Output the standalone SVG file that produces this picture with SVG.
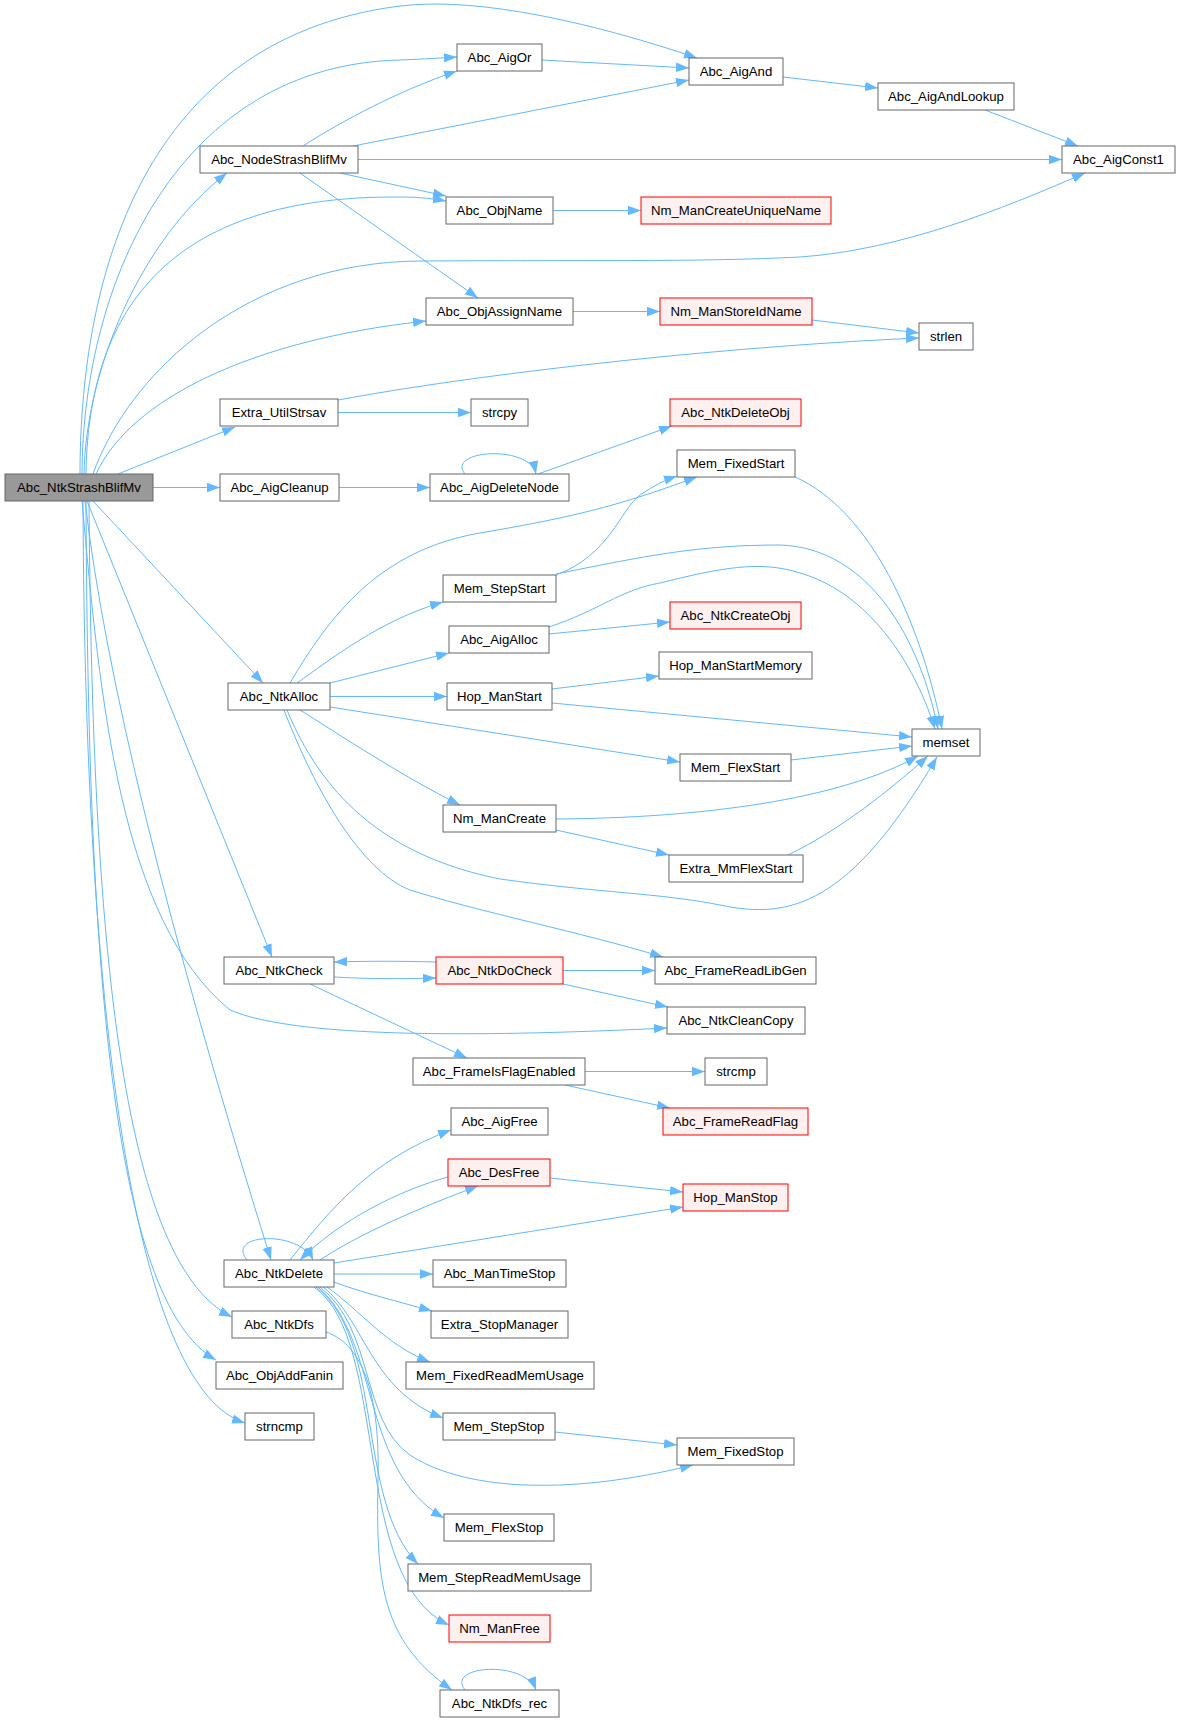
<svg xmlns="http://www.w3.org/2000/svg" width="1180" height="1722" viewBox="0 0 1180 1722">
<style>
.node rect{fill:#ffffff;stroke:#666666;stroke-width:1}
.node.red rect{fill:#fff0f0;stroke:#ff0000}
.node.main rect{fill:#999999;stroke:#666666}
.node text{font-family:"Liberation Sans",Arial,Helvetica,sans-serif;font-size:13.2px;fill:#000000;text-anchor:middle}
.edges path{fill:none;stroke:#63b8ff;stroke-width:1;marker-end:url(#arr)}
</style>
<defs>
<marker id="arr" markerUnits="userSpaceOnUse" markerWidth="14" markerHeight="10" refX="13" refY="5" orient="auto">
<path d="M0,0.3 L13,5 L0,9.7 z" fill="#63b8ff"/>
</marker>
</defs>
<rect x="0" y="0" width="1180" height="1722" fill="#ffffff"/>
<g class="edges">
<path d="M80,474 C80,300 130,40 400,6 C480,-4 600,25 697,58"/>
<path d="M82,474 C83,280 180,65 400,60 C425,59 440,58 457,57"/>
<path d="M84,474 C86,370 140,240 227,173"/>
<path d="M86,474 C88,330 150,195 400,197 C420,197 435,199 446,201"/>
<path d="M93,474 C130,370 250,262 420,261 C600,260 700,262 800,257 C900,250 1000,210 1085,173"/>
<path d="M96,474 C130,400 250,340 426,321"/>
<path d="M118,474 L235,427"/>
<path d="M153,487.5 L220,487.5"/>
<path d="M93,501 L263,683"/>
<path d="M87,501 L272,957"/>
<path d="M82,501 C100,700 120,920 230,1010 C300,1040 500,1036 667,1028"/>
<path d="M85,501 Q115,760 271,1260"/>
<path d="M89,501 C92,900 115,1260 232,1317"/>
<path d="M86,501 C88,950 110,1300 216,1360"/>
<path d="M83,501 C85,1050 140,1390 245,1423"/>
<path d="M303,146 C340,122 400,90 457,71"/>
<path d="M353,146 L689,80"/>
<path d="M358,159.5 L1062,159.5"/>
<path d="M340,173 L446,196"/>
<path d="M300,173 L478,298"/>
<path d="M542,60 L689,68"/>
<path d="M783,77 L878,88"/>
<path d="M985,110 L1078,146"/>
<path d="M553,210.5 L641,210.5"/>
<path d="M573,311.5 L660,311.5"/>
<path d="M812,320 L919,333"/>
<path d="M338,400 C500,370 750,345 919,338"/>
<path d="M338,412.5 L471,412.5"/>
<path d="M339,487.5 L430,487.5"/>
<path d="M465,474 C445,450 530,444 536,474"/>
<path d="M538,474 L672,426"/>
<path d="M290,683 C330,615 380,550 480,533 C580,516 620,505 697,477"/>
<path d="M297,683 C330,660 380,620 443,602"/>
<path d="M330,683 L449,653"/>
<path d="M330,696.5 L447,696.5"/>
<path d="M330,707 L680,762"/>
<path d="M300,710 C340,735 400,775 460,805"/>
<path d="M287,710 C320,790 380,855 500,879 C600,893 660,893 720,905 C790,920 850,905 937,757"/>
<path d="M284,710 C315,790 360,870 410,890 C480,912 580,932 663,957"/>
<path d="M556,575 C610,555 620,510 640,495 C655,485 665,480 677,476"/>
<path d="M556,574 C650,555 700,545 780,545 C870,548 920,640 938,729"/>
<path d="M795,477 C870,510 920,620 942,729"/>
<path d="M549,634 L670,622"/>
<path d="M549,627 C600,610 620,590 660,583 C720,568 760,560 800,573 C860,590 910,650 935,729"/>
<path d="M552,689 L659,676"/>
<path d="M552,703 L912,737"/>
<path d="M791,760 L912,746"/>
<path d="M556,819 C700,818 840,800 918,756"/>
<path d="M556,830 L669,855"/>
<path d="M788,855 C840,830 890,790 928,756"/>
<path d="M334,977 C370,979 400,979 436,978"/>
<path d="M436,962 C400,961 370,961 334,962"/>
<path d="M310,984 L467,1058"/>
<path d="M563,970.5 L655,970.5"/>
<path d="M563,984 L668,1007"/>
<path d="M585,1071.5 L705,1071.5"/>
<path d="M565,1085 L670,1108"/>
<path d="M247,1260 C225,1233 300,1230 313,1260"/>
<path d="M290,1260 C330,1210 370,1160 451,1130"/>
<path d="M320,1260 C350,1240 400,1215 478,1186"/>
<path d="M448,1177 C400,1190 340,1220 300,1260"/>
<path d="M334,1263 L683,1207"/>
<path d="M550,1178 L683,1192"/>
<path d="M334,1274 L433,1274"/>
<path d="M334,1282 C360,1292 400,1302 432,1311"/>
<path d="M327,1287 C360,1310 385,1345 430,1362"/>
<path d="M323,1287 C365,1320 370,1390 443,1418"/>
<path d="M320,1287 C375,1330 360,1420 410,1455 C460,1488 560,1498 693,1465"/>
<path d="M318,1287 C380,1340 360,1470 444,1518"/>
<path d="M316,1287 C385,1340 355,1500 418,1564"/>
<path d="M314,1287 C390,1340 350,1580 449,1625"/>
<path d="M326,1332 C365,1345 380,1400 378,1480 C376,1580 380,1640 452,1690"/>
<path d="M555,1432 L677,1445"/>
<path d="M465,1690 C445,1665 525,1660 536,1690"/>
</g>
<g id="n_Abc_NtkStrashBlifMv" class="node main"><rect x="5" y="474" width="148" height="27"/><text x="79" y="492">Abc_NtkStrashBlifMv</text></g>
<g id="n_Abc_NodeStrashBlifMv" class="node"><rect x="200" y="146" width="158" height="27"/><text x="279" y="164">Abc_NodeStrashBlifMv</text></g>
<g id="n_Abc_AigOr" class="node"><rect x="457" y="44" width="85" height="27"/><text x="499.5" y="62">Abc_AigOr</text></g>
<g id="n_Abc_AigAnd" class="node"><rect x="689" y="58" width="94" height="27"/><text x="736" y="76">Abc_AigAnd</text></g>
<g id="n_Abc_AigAndLookup" class="node"><rect x="878" y="83" width="136" height="27"/><text x="946" y="101">Abc_AigAndLookup</text></g>
<g id="n_Abc_AigConst1" class="node"><rect x="1062" y="146" width="113" height="27"/><text x="1118.5" y="164">Abc_AigConst1</text></g>
<g id="n_Abc_ObjName" class="node"><rect x="446" y="197" width="107" height="27"/><text x="499.5" y="215">Abc_ObjName</text></g>
<g id="n_Nm_ManCreateUniqueName" class="node red"><rect x="641" y="197" width="190" height="27"/><text x="736" y="215">Nm_ManCreateUniqueName</text></g>
<g id="n_Abc_ObjAssignName" class="node"><rect x="426" y="298" width="147" height="27"/><text x="499.5" y="316">Abc_ObjAssignName</text></g>
<g id="n_Nm_ManStoreIdName" class="node red"><rect x="660" y="298" width="152" height="27"/><text x="736" y="316">Nm_ManStoreIdName</text></g>
<g id="n_strlen" class="node"><rect x="919" y="323" width="54" height="27"/><text x="946" y="341">strlen</text></g>
<g id="n_Extra_UtilStrsav" class="node"><rect x="220" y="399" width="118" height="27"/><text x="279" y="417">Extra_UtilStrsav</text></g>
<g id="n_strcpy" class="node"><rect x="471" y="399" width="57" height="27"/><text x="499.5" y="417">strcpy</text></g>
<g id="n_Abc_NtkDeleteObj" class="node red"><rect x="670" y="399" width="131" height="27"/><text x="735.5" y="417">Abc_NtkDeleteObj</text></g>
<g id="n_Abc_AigCleanup" class="node"><rect x="220" y="474" width="119" height="27"/><text x="279.5" y="492">Abc_AigCleanup</text></g>
<g id="n_Abc_AigDeleteNode" class="node"><rect x="430" y="474" width="139" height="27"/><text x="499.5" y="492">Abc_AigDeleteNode</text></g>
<g id="n_Mem_FixedStart" class="node"><rect x="677" y="450" width="118" height="27"/><text x="736" y="468">Mem_FixedStart</text></g>
<g id="n_Mem_StepStart" class="node"><rect x="443" y="575" width="113" height="27"/><text x="499.5" y="593">Mem_StepStart</text></g>
<g id="n_Abc_AigAlloc" class="node"><rect x="449" y="626" width="100" height="27"/><text x="499" y="644">Abc_AigAlloc</text></g>
<g id="n_Abc_NtkCreateObj" class="node red"><rect x="670" y="602" width="131" height="27"/><text x="735.5" y="620">Abc_NtkCreateObj</text></g>
<g id="n_Hop_ManStartMemory" class="node"><rect x="659" y="652" width="153" height="27"/><text x="735.5" y="670">Hop_ManStartMemory</text></g>
<g id="n_Abc_NtkAlloc" class="node"><rect x="228" y="683" width="102" height="27"/><text x="279" y="701">Abc_NtkAlloc</text></g>
<g id="n_Hop_ManStart" class="node"><rect x="447" y="683" width="105" height="27"/><text x="499.5" y="701">Hop_ManStart</text></g>
<g id="n_memset" class="node"><rect x="912" y="729" width="68" height="27"/><text x="946" y="747">memset</text></g>
<g id="n_Mem_FlexStart" class="node"><rect x="680" y="754" width="111" height="27"/><text x="735.5" y="772">Mem_FlexStart</text></g>
<g id="n_Nm_ManCreate" class="node"><rect x="443" y="805" width="113" height="27"/><text x="499.5" y="823">Nm_ManCreate</text></g>
<g id="n_Extra_MmFlexStart" class="node"><rect x="669" y="855" width="134" height="27"/><text x="736" y="873">Extra_MmFlexStart</text></g>
<g id="n_Abc_NtkCheck" class="node"><rect x="224" y="957" width="110" height="27"/><text x="279" y="975">Abc_NtkCheck</text></g>
<g id="n_Abc_NtkDoCheck" class="node red"><rect x="436" y="957" width="127" height="27"/><text x="499.5" y="975">Abc_NtkDoCheck</text></g>
<g id="n_Abc_FrameReadLibGen" class="node"><rect x="655" y="957" width="161" height="27"/><text x="735.5" y="975">Abc_FrameReadLibGen</text></g>
<g id="n_Abc_NtkCleanCopy" class="node"><rect x="667" y="1007" width="138" height="27"/><text x="736" y="1025">Abc_NtkCleanCopy</text></g>
<g id="n_Abc_FrameIsFlagEnabled" class="node"><rect x="413" y="1058" width="172" height="27"/><text x="499" y="1076">Abc_FrameIsFlagEnabled</text></g>
<g id="n_strcmp" class="node"><rect x="705" y="1058" width="62" height="27"/><text x="736" y="1076">strcmp</text></g>
<g id="n_Abc_FrameReadFlag" class="node red"><rect x="663" y="1108" width="145" height="27"/><text x="735.5" y="1126">Abc_FrameReadFlag</text></g>
<g id="n_Abc_AigFree" class="node"><rect x="451" y="1108" width="97" height="27"/><text x="499.5" y="1126">Abc_AigFree</text></g>
<g id="n_Abc_DesFree" class="node red"><rect x="448" y="1159" width="102" height="27"/><text x="499" y="1177">Abc_DesFree</text></g>
<g id="n_Hop_ManStop" class="node red"><rect x="683" y="1184" width="105" height="27"/><text x="735.5" y="1202">Hop_ManStop</text></g>
<g id="n_Abc_NtkDelete" class="node"><rect x="224" y="1260" width="110" height="27"/><text x="279" y="1278">Abc_NtkDelete</text></g>
<g id="n_Abc_ManTimeStop" class="node"><rect x="433" y="1260" width="133" height="27"/><text x="499.5" y="1278">Abc_ManTimeStop</text></g>
<g id="n_Extra_StopManager" class="node"><rect x="431" y="1311" width="137" height="27"/><text x="499.5" y="1329">Extra_StopManager</text></g>
<g id="n_Abc_NtkDfs" class="node"><rect x="232" y="1311" width="94" height="27"/><text x="279" y="1329">Abc_NtkDfs</text></g>
<g id="n_Abc_ObjAddFanin" class="node"><rect x="216" y="1362" width="127" height="27"/><text x="279.5" y="1380">Abc_ObjAddFanin</text></g>
<g id="n_Mem_FixedReadMemUsage" class="node"><rect x="406" y="1362" width="188" height="27"/><text x="500" y="1380">Mem_FixedReadMemUsage</text></g>
<g id="n_strncmp" class="node"><rect x="245" y="1413" width="69" height="27"/><text x="279.5" y="1431">strncmp</text></g>
<g id="n_Mem_StepStop" class="node"><rect x="443" y="1413" width="112" height="27"/><text x="499" y="1431">Mem_StepStop</text></g>
<g id="n_Mem_FixedStop" class="node"><rect x="677" y="1438" width="117" height="27"/><text x="735.5" y="1456">Mem_FixedStop</text></g>
<g id="n_Mem_FlexStop" class="node"><rect x="444" y="1514" width="110" height="27"/><text x="499" y="1532">Mem_FlexStop</text></g>
<g id="n_Mem_StepReadMemUsage" class="node"><rect x="408" y="1564" width="183" height="27"/><text x="499.5" y="1582">Mem_StepReadMemUsage</text></g>
<g id="n_Nm_ManFree" class="node red"><rect x="449" y="1615" width="101" height="27"/><text x="499.5" y="1633">Nm_ManFree</text></g>
<g id="n_Abc_NtkDfs_rec" class="node"><rect x="440" y="1690" width="119" height="27"/><text x="499.5" y="1708">Abc_NtkDfs_rec</text></g>
</svg>
